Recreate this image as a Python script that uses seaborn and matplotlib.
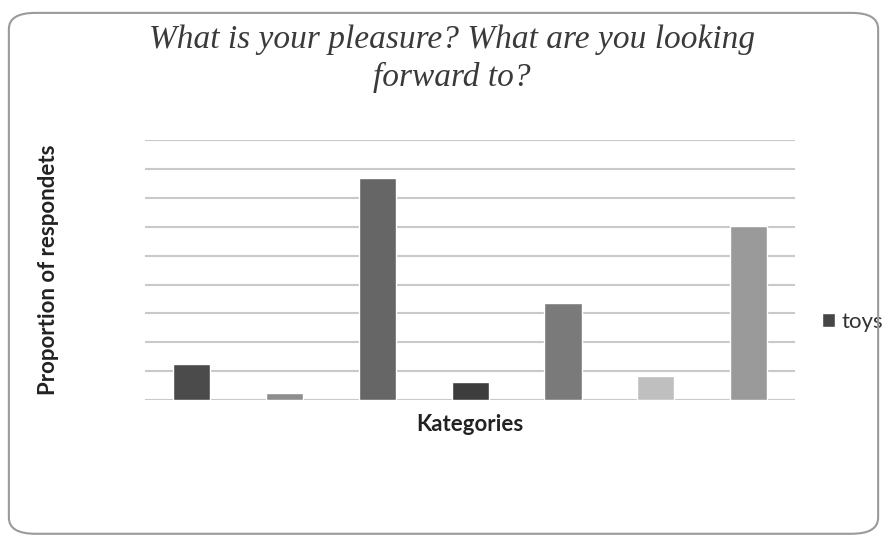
import matplotlib.pyplot as plt
import seaborn as sns
from matplotlib.patches import FancyBboxPatch, Patch

categorias = ['c1', 'c2', 'c3', 'c4', 'c5', 'c6', 'c7']
valores = [1.25, 0.23, 7.69, 0.64, 3.35, 0.83, 6.03]
cores = ['#4b4b4b', '#8e8e8e', '#666666', '#3d3d3d', '#7a7a7a', '#bfbfbf', '#9a9a9a']
serie = 'toys'

sns.set_style('white')
plt.rcParams['font.family'] = ['Lato', 'DejaVu Sans']

fig = plt.figure(figsize=(8.87, 5.37), dpi=100)
ax = fig.add_axes([0.1635, 0.255, 0.733, 0.484])

sns.barplot(x=categorias, y=valores, hue=categorias, palette=cores, width=0.4,
            legend=False, ax=ax, zorder=3)

ax.set_ylim(0, 9)
ax.set_xlim(-0.5, 6.5)
ax.set_yticks(range(10))
ax.yaxis.grid(True, color='#c9c9c9', linewidth=1.5, zorder=0)
ax.set_axisbelow(True)
ax.tick_params(left=False, bottom=False, labelleft=False, labelbottom=False)
sns.despine(ax=ax, left=True, bottom=True, top=True, right=True)

ax.set_xlabel('Kategories', fontsize=16, fontweight='bold', color='#222222', labelpad=10)
ax.set_ylabel('Proportion of respondets', fontsize=16, fontweight='bold', color='#222222',
              labelpad=62)

ax.legend(handles=[Patch(facecolor='#464646', label=serie)], loc='center left',
          bbox_to_anchor=(1.01, 0.3), frameon=False, fontsize=16, handlelength=0.6,
          handleheight=0.6, handletextpad=0.3, labelcolor='#333333')

fig.text(452 / 887, 1 - 59 / 537, 'What is your pleasure? What are you looking\nforward to?',
         ha='center', va='center', fontsize=24, style='italic', family='Liberation Serif',
         color='#3a3a3a', linespacing=1.28)

borda = FancyBboxPatch((0.01, 0.006), 0.98, 0.97, boxstyle='round,pad=0,rounding_size=0.03',
                       transform=fig.transFigure, facecolor='none', edgecolor='#9a9a9a',
                       linewidth=1.5)
fig.patches.append(borda)

fig.savefig('out.png', dpi=100)
